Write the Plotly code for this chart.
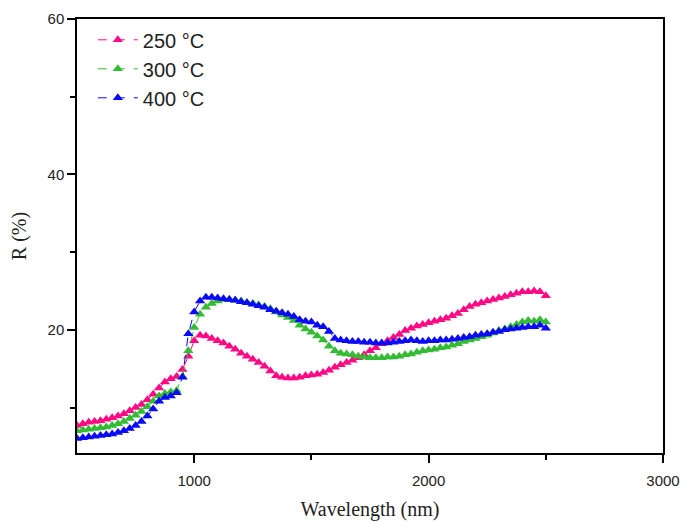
import plotly.graph_objects as go

wavelength = [500 + 25 * i for i in range(81)]

r_250 = [7.7, 7.9, 8.1, 8.2, 8.3, 8.5, 8.7, 8.9, 9.2, 9.6,
         10.0, 10.4, 11.0, 11.7, 12.5, 13.3, 13.7, 14.0, 14.9, 16.6,
         18.6, 19.3, 19.2, 18.9, 18.6, 18.3, 17.9, 17.5, 17.0, 16.6,
         16.2, 15.8, 15.3, 14.7, 14.1, 13.9, 13.8, 13.8, 13.9, 14.1,
         14.2, 14.3, 14.5, 14.8, 15.2, 15.5, 15.8, 16.1, 16.4, 16.8,
         17.3, 17.7, 18.2, 18.6, 19.0, 19.4, 19.9, 20.2, 20.5, 20.7,
         20.9, 21.1, 21.3, 21.5, 21.8, 22.1, 22.6, 23.0, 23.3, 23.5,
         23.7, 23.9, 24.1, 24.3, 24.5, 24.7, 24.9, 24.9, 25.0, 24.9,
         24.4]

r_300 = [7.0, 7.1, 7.2, 7.3, 7.4, 7.5, 7.7, 7.9, 8.2, 8.6,
         9.0, 9.5, 10.1, 10.8, 11.5, 11.8, 12.0, 12.2, 14.0, 17.3,
         20.3, 22.0, 22.9, 23.4, 23.7, 23.9, 23.9, 23.8, 23.7, 23.5,
         23.4, 23.2, 23.0, 22.7, 22.3, 21.9, 21.6, 21.2, 20.6, 20.1,
         19.7, 19.2, 18.7, 17.9, 17.3, 17.0, 16.9, 16.8, 16.6, 16.5,
         16.4, 16.4, 16.4, 16.5, 16.5, 16.6, 16.8, 16.9, 17.1, 17.3,
         17.4, 17.5, 17.7, 17.8, 18.0, 18.2, 18.5, 18.7, 18.9, 19.1,
         19.3, 19.6, 19.9, 20.1, 20.4, 20.7, 21.0, 21.2, 21.1, 21.3,
         21.0]

r_400 = [6.0, 6.1, 6.2, 6.3, 6.4, 6.5, 6.6, 6.8, 7.0, 7.3,
         7.7, 8.2, 8.9, 9.8, 10.8, 11.3, 11.5, 11.9, 13.9, 19.5,
         22.3, 23.7, 24.2, 24.2, 24.1, 24.0, 23.9, 23.8, 23.6, 23.5,
         23.3, 23.1, 22.9, 22.6, 22.4, 22.2, 22.0, 21.7, 21.3, 21.1,
         21.0, 20.6, 20.4, 19.8, 18.9, 18.7, 18.6, 18.5, 18.5, 18.4,
         18.4, 18.3, 18.3, 18.3, 18.4, 18.5, 18.6, 18.7, 18.6, 18.5,
         18.6, 18.6, 18.7, 18.7, 18.8, 18.9, 19.0, 19.1, 19.3, 19.4,
         19.5, 19.7, 19.8, 20.0, 20.1, 20.2, 20.3, 20.4, 20.4, 20.6,
         20.2]

series = [
    ("250 °C", r_250, "#FF0A84"),
    ("300 °C", r_300, "#33BB33"),
    ("400 °C", r_400, "#0A0AF5"),
]

fig = go.Figure()
for name, vals, col in series:
    fig.add_trace(go.Scatter(
        x=wavelength, y=vals, name=name, mode="lines+markers",
        line=dict(color=col, width=1, dash="dash"),
        marker=dict(symbol="triangle-up", size=9, color=col),
    ))

axis_common = dict(
    showgrid=False, zeroline=False, showline=True, linecolor="black",
    linewidth=1.5, mirror=True, ticks="outside", ticklen=8, tickwidth=1.5,
    tickcolor="black", automargin=False,
    tickfont=dict(family="Liberation Sans, Arial", size=15, color="#222"),
)

fig.update_layout(
    width=683, height=522,
    margin=dict(l=77, r=20, t=19, b=69),
    paper_bgcolor="white", plot_bgcolor="white",
    xaxis=dict(range=[500, 3000], tickvals=[1000, 2000, 3000],
               ticklabelstandoff=5,
               minor=dict(tickvals=[1500, 2500], ticklen=5, tickwidth=1.5,
                          ticks="outside", tickcolor="black"),
               title=dict(text="Wavelength (nm)", standoff=14,
                          font=dict(family="Liberation Serif, Times New Roman", size=20, color="#222")),
               **axis_common),
    yaxis=dict(range=[4.15, 60], tickvals=[20, 40, 60],
               minor=dict(tickvals=[10, 30, 50], ticklen=5, tickwidth=1.5,
                          ticks="outside", tickcolor="black"),
               title=dict(text="R (%)", standoff=16,
                          font=dict(family="Liberation Serif, Times New Roman", size=20, color="#222")),
               **axis_common),
    legend=dict(x=0.027, y=0.997, xanchor="left", yanchor="top",
                bgcolor="rgba(0,0,0,0)", tracegroupgap=0,
                font=dict(family="Liberation Sans, Arial", size=20, color="#222"),
                itemwidth=40),
    showlegend=True,
)

fig.write_html("out.html")
